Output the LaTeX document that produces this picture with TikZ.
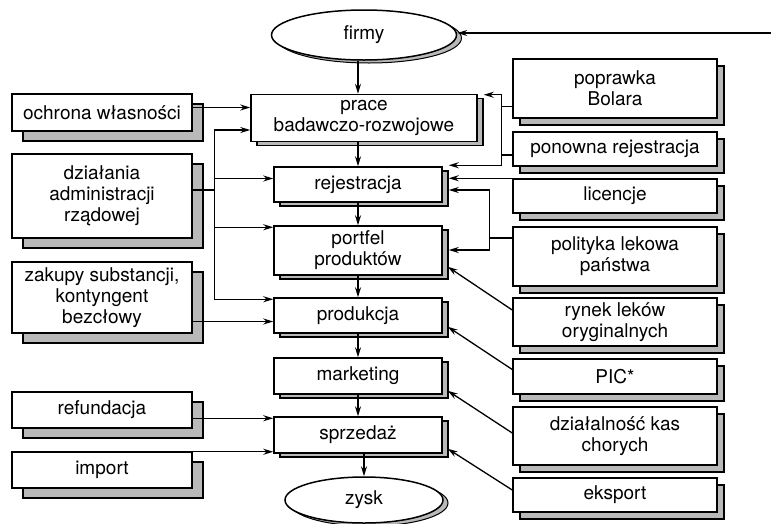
\documentclass[tikz,border=0pt]{standalone}
\usepackage{fontspec}
\setmainfont{TeX Gyre Heros}
\usetikzlibrary{shapes.geometric,shadows,arrows.meta}

\begin{document}
\begin{tikzpicture}[x=1pt,y=-1pt,>={Stealth[length=10pt,width=6pt]},
  every node/.style={font=\fontsize{19}{21}\selectfont,align=center,inner sep=0pt},
  box/.style={draw,line width=1.5pt,fill=white,rectangle},
  lbox/.style={box,minimum width=180pt,general shadow={shadow xshift=11pt,shadow yshift=-10pt,fill=gray!55,draw,line width=1.2pt}},
  cbox/.style={box,minimum width=168pt,general shadow={shadow xshift=6pt,shadow yshift=-4pt,fill=gray!55,draw,line width=1.2pt}},
  rbox/.style={box,minimum width=204pt,general shadow={shadow xshift=7pt,shadow yshift=-7pt,fill=gray!55,draw,line width=1.2pt}},
  goal/.style={draw,ellipse,line width=1.5pt,fill=white,general shadow={shadow xshift=5pt,shadow yshift=-3pt,fill=gray!55,draw,line width=1pt}},
  link/.style={->,line width=1.3pt},
  trunk/.style={line width=1.3pt}]
\useasboundingbox[fill=white] (0,0) rectangle (771,523);
\node[goal,minimum width=185pt,minimum height=50pt] (firmy) at (364,35) {firmy};
\node[cbox,minimum width=226pt,minimum height=47pt] (prace) at (364,118) {prace\\badawczo-rozwojowe};
\node[cbox,minimum height=35pt] (rej) at (358,184.5) {rejestracja};
\node[cbox,minimum height=49pt] (portfel) at (358,250.5) {portfel\\produktów};
\node[cbox,minimum height=35pt] (prod) at (358,315.5) {produkcja};
\node[cbox,minimum height=36pt] (mark) at (358,376) {marketing};
\node[cbox,minimum height=36pt] (sprz) at (358,435) {sprzedaż};
\node[goal,minimum width=158pt,minimum height=46pt] (zysk) at (364,500) {zysk};

\node[lbox,minimum height=37pt] (ochrona) at (102,112.5) {ochrona własności};
\node[lbox,minimum height=84pt] (admin) at (102,196) {działania\\administracji\\rządowej};
\node[lbox,minimum height=71pt] (zakupy) at (102,297.5) {zakupy substancji,\\kontyngent\\bezcłowy};
\node[lbox,minimum height=36pt] (refund) at (102,410) {refundacja};
\node[lbox,minimum height=36pt] (import) at (102,470) {import};

\node[rbox,minimum height=59pt] (bolar) at (615,88.5) {poprawka\\Bolara};
\node[rbox,minimum height=34pt] (ponowna) at (615,149) {ponowna rejestracja};
\node[rbox,minimum height=34pt] (licencje) at (615,196) {licencje};
\node[rbox,minimum height=59pt] (polityka) at (615,256.5) {polityka lekowa\\państwa};
\node[rbox,minimum height=48pt] (rynek) at (615,322) {rynek leków\\oryginalnych};
\node[rbox,minimum height=35pt] (pic) at (615,376.5) {PIC*};
\node[rbox,minimum height=58pt] (kasy) at (615,436) {działalność kas\\chorych};
\node[rbox,minimum height=34pt] (eksport) at (615,495) {eksport};

\coordinate (wej) at (771,33);
\draw[link] (wej) -- (wej -| firmy.east);
\draw[link] (firmy.south -| rej) -- (prace.north -| rej);
\draw[link] (prace.south -| rej) -- (rej);
\draw[link] (rej) -- (portfel);
\draw[link] (portfel) -- (prod);
\draw[link] (prod) -- (mark);
\draw[link] (mark) -- (sprz);
\draw[link] (sprz.south -| zysk) -- (zysk);

\coordinate (t1) at ([yshift=5pt]ochrona.east);
\draw[link] (t1) -- (t1 -| prace.west);
\coordinate (pion) at ([xshift=22pt,yshift=6pt]admin.east);
\draw[trunk] (admin.east |- pion) -- (pion);
\draw[link] (pion) |- ([yshift=-12pt]prace.west);
\draw[link] (pion) |- ([yshift=6pt]rej.west);
\draw[link] (pion) |- ([yshift=-2pt]portfel.north west);
\draw[link] (pion) |- ([yshift=-2pt]prod.north west);
\coordinate (t2) at ([yshift=-6pt]prod.west);
\draw[link] (zakupy.east |- t2) -- (t2);
\coordinate (t3) at ([yshift=-2pt]sprz.north west);
\draw[link] (refund.east |- t3) -- (t3);
\coordinate (t4) at ([yshift=2pt]sprz.south west);
\draw[link] (import.east |- t4) -- (t4);

\coordinate (p1) at ([xshift=-11pt,yshift=-18pt]bolar.west);
\draw[trunk] (bolar.west |- p1) -- (p1);
\coordinate (p2) at ([yshift=-6pt]ponowna.west);
\draw[trunk] (p2) -- (p2 -| p1);
\draw[link] (p1) |- ([xshift=6pt,yshift=-1pt]prace.north east);
\draw[link] (p1) |- ([xshift=6pt,yshift=1pt]rej.north east);
\coordinate (r1) at ([xshift=6pt]rej.east);
\draw[link] (licencje.north west) -- (licencje.north west -| r1);
\coordinate (p3) at ([xshift=-23pt,yshift=18.5pt]polityka.west);
\draw[trunk] (polityka.west |- p3) -- (p3);
\draw[link] (p3) |- ([xshift=6pt,yshift=-5.5pt]rej.east);
\draw[link] (p3) |- ([xshift=6pt,yshift=0.5pt]portfel.east);

\draw[link] ([yshift=12pt]rynek.west) -- ([xshift=5pt,yshift=9pt]portfel.south east);
\draw[link] ([yshift=7pt]pic.west) -- ([xshift=5pt,yshift=7pt]prod.south east);
\draw[link] ([yshift=3pt]kasy.west) -- ([xshift=5pt,yshift=4pt]mark.south east);
\draw[link] ([yshift=5pt]eksport.west) -- ([xshift=5pt,yshift=5pt]sprz.south east);
\end{tikzpicture}
\end{document}
